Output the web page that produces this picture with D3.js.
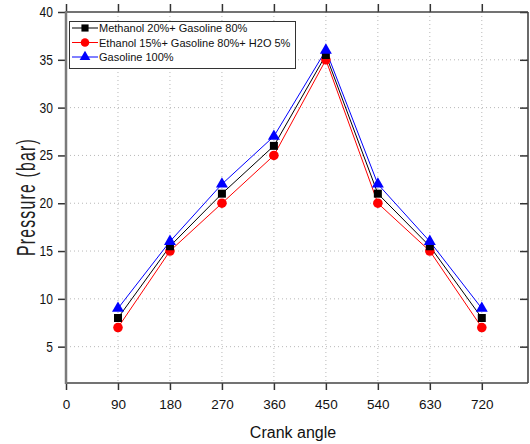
<!DOCTYPE html>
<html><head><meta charset="utf-8">
<script src="https://cdn.jsdelivr.net/npm/d3@7"></script>
<style>body{margin:0;background:#fff}svg{display:block}</style>
</head><body>
<script>
const crankAngles = [90, 180, 270, 360, 450, 540, 630, 720];
const methanol = [8, 15.5, 21, 26, 35.5, 21, 15.5, 8];
const ethanol = [7, 15, 20, 25, 35, 20, 15, 7];
const gasoline = [9, 16, 22, 27, 36, 22, 16, 9];
const seriesNames = ["Methanol 20%+ Gasoline 80%", "Ethanol 15%+ Gasoline 80%+ H2O 5%", "Gasoline 100%"];
const xTicks = [0, 90, 180, 270, 360, 450, 540, 630, 720];
const yTicks = [5, 10, 15, 20, 25, 30, 35, 40];

const W = 530, H = 444;
const L = 66, R = 528, T = 12, B = 383;
const svg = d3.select("body").append("svg").attr("width", W).attr("height", H);
const x = d3.scaleLinear().domain([0, 800]).range([L, R]);
const y = d3.scaleLinear().domain([1.2, 40]).range([B, T]);

// grid
const g = svg.append("g");
g.selectAll("line.gx").data(xTicks.slice(1)).join("line")
  .attr("x1", d => x(d)).attr("x2", d => x(d)).attr("y1", T).attr("y2", B)
  .attr("stroke", "#b8b8b8").attr("stroke-width", 1).attr("stroke-dasharray", "1,3");
g.selectAll("line.gy").data(yTicks.slice(0, -1)).join("line")
  .attr("y1", d => y(d)).attr("y2", d => y(d)).attr("x1", L).attr("x2", R)
  .attr("stroke", "#b8b8b8").attr("stroke-width", 1).attr("stroke-dasharray", "1,3");

const fontSans = "'Liberation Sans', Arial, sans-serif";
// axes
const xAxis = svg.append("g").attr("transform", `translate(0,${B})`)
  .call(d3.axisBottom(x).tickValues(xTicks).tickSize(7).tickPadding(9).tickFormat(d3.format("d")));
xAxis.select(".domain").remove();
xAxis.selectAll("line").attr("stroke", "#333").attr("stroke-width", 1.5);
xAxis.selectAll("text").attr("font-family", fontSans).attr("font-size", 13.5).attr("fill", "#111");

const xTop = svg.append("g").attr("transform", `translate(0,${T})`)
  .call(d3.axisTop(x).tickValues(xTicks).tickSize(8).tickFormat(""));
xTop.select(".domain").remove();
xTop.selectAll("line").attr("stroke", "#333").attr("stroke-width", 1.5);

const yAxis = svg.append("g").attr("transform", `translate(${L},0)`)
  .call(d3.axisLeft(y).tickValues(yTicks).tickSize(8).tickPadding(5));
yAxis.select(".domain").remove();
yAxis.selectAll("line").attr("stroke", "#333").attr("stroke-width", 1.5);
yAxis.selectAll("text").attr("font-family", fontSans).attr("font-size", 14).attr("fill", "#111")
  .attr("textLength", d => String(d).length * 6.7).attr("lengthAdjust", "spacingAndGlyphs");

const yRight = svg.append("g").attr("transform", `translate(${R},0)`)
  .call(d3.axisLeft(y).tickValues(yTicks).tickSize(8).tickFormat(""));
yRight.select(".domain").remove();
yRight.selectAll("line").attr("stroke", "#333").attr("stroke-width", 1.5);

// frame
svg.append("line").attr("x1", L).attr("x2", R).attr("y1", B).attr("y2", B).attr("stroke", "#444").attr("stroke-width", 1.6);
svg.append("line").attr("x1", L).attr("x2", R).attr("y1", T).attr("y2", T).attr("stroke", "#444").attr("stroke-width", 1.6);
svg.append("line").attr("x1", R).attr("x2", R).attr("y1", T).attr("y2", B).attr("stroke", "#444").attr("stroke-width", 1.6);
svg.append("line").attr("x1", L).attr("x2", L).attr("y1", T - 1).attr("y2", B + 1).attr("stroke", "#7a7a7a").attr("stroke-width", 2.5);

// series
const series = [
  {name: seriesNames[0], values: methanol, color: "#000000", shape: d3.symbolSquare, size: 64},
  {name: seriesNames[1], values: ethanol, color: "#ff0000", shape: d3.symbolCircle, size: 72},
  {name: seriesNames[2], values: gasoline, color: "#0000ff", shape: d3.symbolTriangle, size: 62}
];
const line = d3.line().x(d => x(d[0])).y(d => y(d[1]));
const order = [1, 0, 2];
order.forEach(i => {
  const s = series[i];
  const pts = crankAngles.map((a, j) => [a, s.values[j]]);
  svg.append("path").attr("d", line(pts)).attr("fill", "none").attr("stroke", s.color).attr("stroke-width", 1);
});
order.forEach(i => {
  const s = series[i];
  const pts = crankAngles.map((a, j) => [a, s.values[j]]);
  svg.append("g").selectAll("path").data(pts).join("path")
    .attr("transform", d => `translate(${x(d[0])},${y(d[1])})`)
    .attr("d", d3.symbol().type(s.shape).size(s.size)).attr("fill", s.color);
});

// legend
const lg = svg.append("g");
lg.append("rect").attr("x", 69.5).attr("y", 21.5).attr("width", 226).attr("height", 47)
  .attr("fill", "#fff").attr("stroke", "#333").attr("stroke-width", 1);
series.forEach((s, i) => {
  const yy = 28 + i * 14.5;
  lg.append("line").attr("x1", 72).attr("x2", 98).attr("y1", yy).attr("y2", yy).attr("stroke", s.color).attr("stroke-width", 1);
  lg.append("path").attr("transform", `translate(85,${yy})`).attr("d", d3.symbol().type(s.shape).size(s.size * 0.8)).attr("fill", s.color);
  lg.append("text").attr("x", 99).attr("y", yy + 4).text(s.name)
    .attr("font-family", fontSans).attr("font-size", 11).attr("fill", "#111");
});

// axis titles
svg.append("text").attr("x", 293).attr("y", 438).attr("text-anchor", "middle")
  .attr("font-family", fontSans).attr("font-size", 16).attr("fill", "#111").text("Crank angle");
svg.append("text").attr("transform", "translate(35,197) rotate(-90)").attr("text-anchor", "middle")
  .attr("font-family", fontSans).attr("font-size", 26).attr("letter-spacing", 2).attr("fill", "#222")
  .attr("textLength", 118).attr("lengthAdjust", "spacingAndGlyphs").text("Pressure (bar)");
</script>
</body></html>
